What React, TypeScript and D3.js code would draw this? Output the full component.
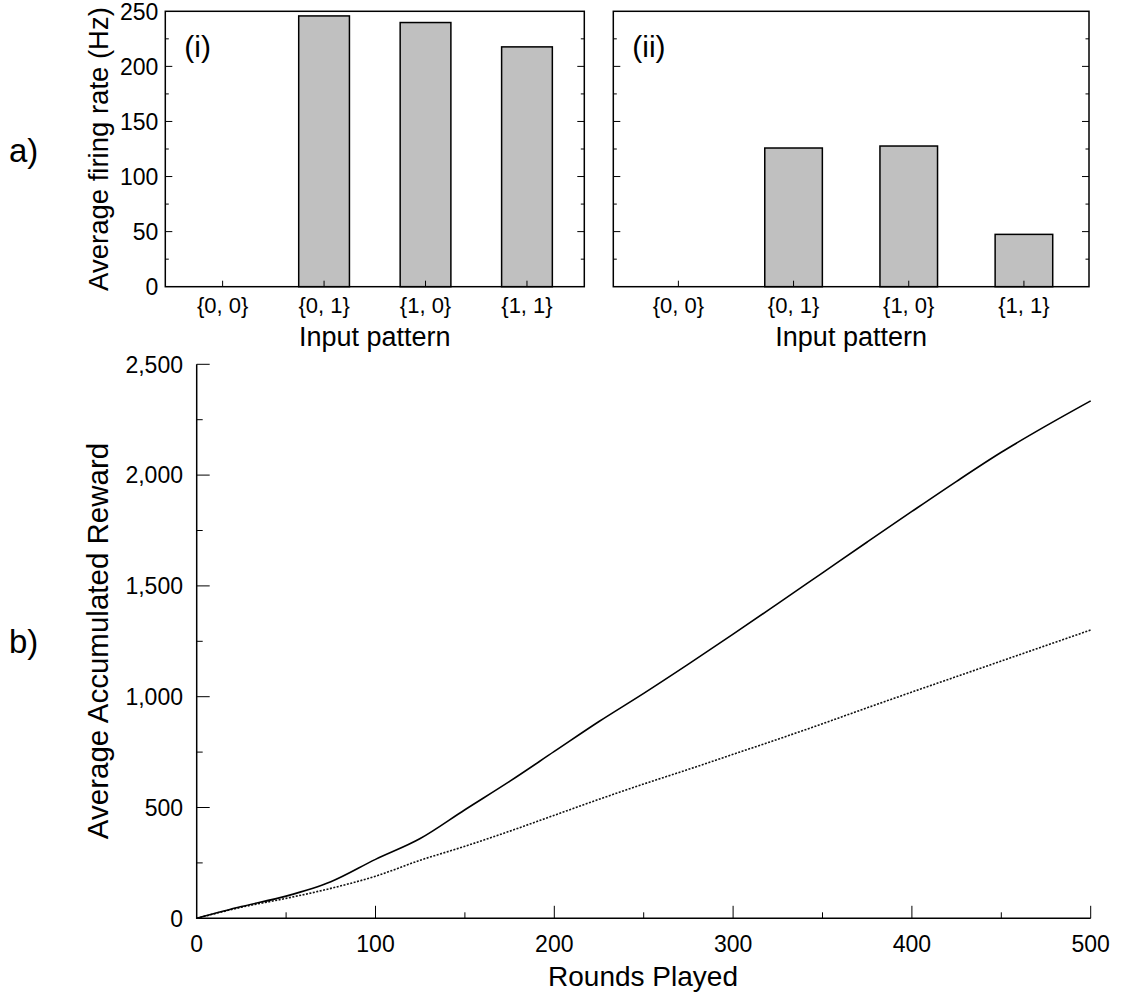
import React, { useEffect, useRef } from "react";
import * as d3 from "d3";

const patterns = ["{0, 0}", "{0, 1}", "{1, 0}", "{1, 1}"];
const rateI = [0, 245.8, 239.8, 217.7];
const rateII = [0, 125.9, 127.7, 47.5];
const rateTicks = [0, 50, 100, 150, 200, 250];

const rounds = [0, 25, 50, 75, 100, 125, 150, 175, 200, 225, 250, 275, 300, 325, 350, 375, 400, 425, 450, 475, 500];
const rewardSolid = [0, 53, 100, 165, 266, 360, 490, 618, 753, 888, 1015, 1147, 1282, 1420, 1559, 1698, 1836, 1972, 2103, 2222, 2335];
const rewardDotted = [0, 50, 90, 135, 190, 262, 325, 393, 465, 537, 606, 672, 740, 808, 878, 950, 1021, 1091, 1161, 1231, 1301];
const roundTicks = [0, 100, 200, 300, 400, 500];
const rewardTicks = [0, 500, 1000, 1500, 2000, 2500];

const FONT = "'Liberation Sans', Arial, Helvetica, sans-serif";

const App = () => {
  const svgRef = useRef<SVGSVGElement>(null);

  useEffect(() => {
    const svg = d3.select(svgRef.current);
    svg.selectAll("*").remove();

    const top = 11.3;
    const bottom = 286.7;
    const yRate = d3.scaleLinear().domain([0, 250]).range([bottom, top]);

    // one bar panel
    const drawPanel = (left: number, right: number, values: number[], tag: string, labels: boolean) => {
      const g = svg.append("g");
      const x = d3.scalePoint().domain(patterns).range([left, right]).padding(0.565);
      const bw = x.step() * 0.5;

      g.selectAll("rect.bar")
        .data(values)
        .join("rect")
        .attr("class", "bar")
        .attr("x", (_, i) => (x(patterns[i]) as number) - bw / 2)
        .attr("y", d => yRate(d))
        .attr("width", bw)
        .attr("height", d => bottom - yRate(d))
        .attr("fill", d => (d > 0 ? "#c0c0c0" : "none"))
        .attr("stroke", d => (d > 0 ? "#000" : "none"))
        .attr("stroke-width", 1.5);

      g.append("rect")
        .attr("x", left)
        .attr("y", top)
        .attr("width", right - left)
        .attr("height", bottom - top)
        .attr("fill", "none")
        .attr("stroke", "#000")
        .attr("stroke-width", 1.5);

      // y ticks on both sides, pointing in
      d3.range(25, 250, 25).forEach(v => {
        const len = v % 50 === 0 ? 7 : 3.5;
        g.append("line").attr("x1", left).attr("x2", left + len).attr("y1", yRate(v)).attr("y2", yRate(v)).attr("stroke", "#000").attr("stroke-width", 1);
        g.append("line").attr("x1", right).attr("x2", right - len).attr("y1", yRate(v)).attr("y2", yRate(v)).attr("stroke", "#000").attr("stroke-width", 1);
      });

      patterns.forEach(p => {
        g.append("line").attr("x1", x(p)!).attr("x2", x(p)!).attr("y1", bottom).attr("y2", bottom - 6).attr("stroke", "#000").attr("stroke-width", 1);
        g.append("text").attr("x", x(p)!).attr("y", 313).attr("text-anchor", "middle").attr("font-size", 22).text(p);
      });

      if (labels) {
        rateTicks.forEach(v => {
          g.append("text").attr("x", left - 7).attr("y", yRate(v)).attr("dy", "0.36em").attr("text-anchor", "end").attr("font-size", 23).text(v);
        });
      }

      g.append("text").attr("x", (left + right) / 2).attr("y", 346).attr("text-anchor", "middle").attr("font-size", 27).text("Input pattern");
      g.append("text").attr("x", left + 19).attr("y", 57).attr("font-size", 30).text(tag);
    };

    drawPanel(165.3, 584.3, rateI, "(i)", true);
    drawPanel(613.3, 1089, rateII, "(ii)", false);

    svg.append("text")
      .attr("transform", "translate(108,149) rotate(-90)")
      .attr("text-anchor", "middle")
      .attr("font-size", 27.5)
      .text("Average firing rate (Hz)");

    svg.append("text").attr("x", 9).attr("y", 162).attr("font-size", 33).text("a)");
    svg.append("text").attr("x", 9).attr("y", 653).attr("font-size", 33).text("b)");

    // reward chart
    const x = d3.scaleLinear().domain([0, 500]).range([196.7, 1090.7]);
    const y = d3.scaleLinear().domain([0, 2500]).range([918.3, 364.3]);
    const gb = svg.append("g");

    gb.append("path")
      .attr("d", `M${x(0)},${y(2500)}V${y(0)}H${x(500)}`)
      .attr("fill", "none")
      .attr("stroke", "#000")
      .attr("stroke-width", 1.5);

    d3.range(50, 501, 50).forEach(v => {
      const len = v % 100 === 0 ? 12.5 : 6;
      gb.append("line").attr("x1", x(v)).attr("x2", x(v)).attr("y1", y(0)).attr("y2", y(0) - len).attr("stroke", "#000").attr("stroke-width", 1);
    });
    d3.range(250, 2501, 250).forEach(v => {
      const len = v % 500 === 0 ? 13 : 6;
      gb.append("line").attr("x1", x(0)).attr("x2", x(0) + len).attr("y1", y(v)).attr("y2", y(v)).attr("stroke", "#000").attr("stroke-width", 1);
    });

    roundTicks.forEach(v => {
      gb.append("text").attr("x", x(v)).attr("y", 952).attr("text-anchor", "middle").attr("font-size", 23).text(v);
    });
    const fmt = d3.format(",");
    rewardTicks.forEach(v => {
      gb.append("text").attr("x", 183).attr("y", y(v)).attr("dy", "0.36em").attr("text-anchor", "end").attr("font-size", 23).text(fmt(v));
    });

    gb.append("text").attr("x", 643).attr("y", 986).attr("text-anchor", "middle").attr("font-size", 28).text("Rounds Played");
    gb.append("text")
      .attr("transform", "translate(108,641) rotate(-90)")
      .attr("text-anchor", "middle")
      .attr("font-size", 29.5)
      .text("Average Accumulated Reward");

    const line = d3.line<number>()
      .x((_, i) => x(rounds[i]))
      .y(d => y(d))
      .curve(d3.curveMonotoneX);

    gb.append("path").datum(rewardDotted).attr("d", line).attr("fill", "none").attr("stroke", "#111").attr("stroke-width", 1.6).attr("stroke-dasharray", "2,1.5");
    gb.append("path").datum(rewardSolid).attr("d", line).attr("fill", "none").attr("stroke", "#000").attr("stroke-width", 1.6);
  }, []);

  return (
    <div style={{ position: "absolute", left: 0, top: 0 }}>
      <svg ref={svgRef} width={1121} height={999} style={{ display: "block", fontFamily: FONT, background: "#fff" }} />
    </div>
  );
};

export default App;
